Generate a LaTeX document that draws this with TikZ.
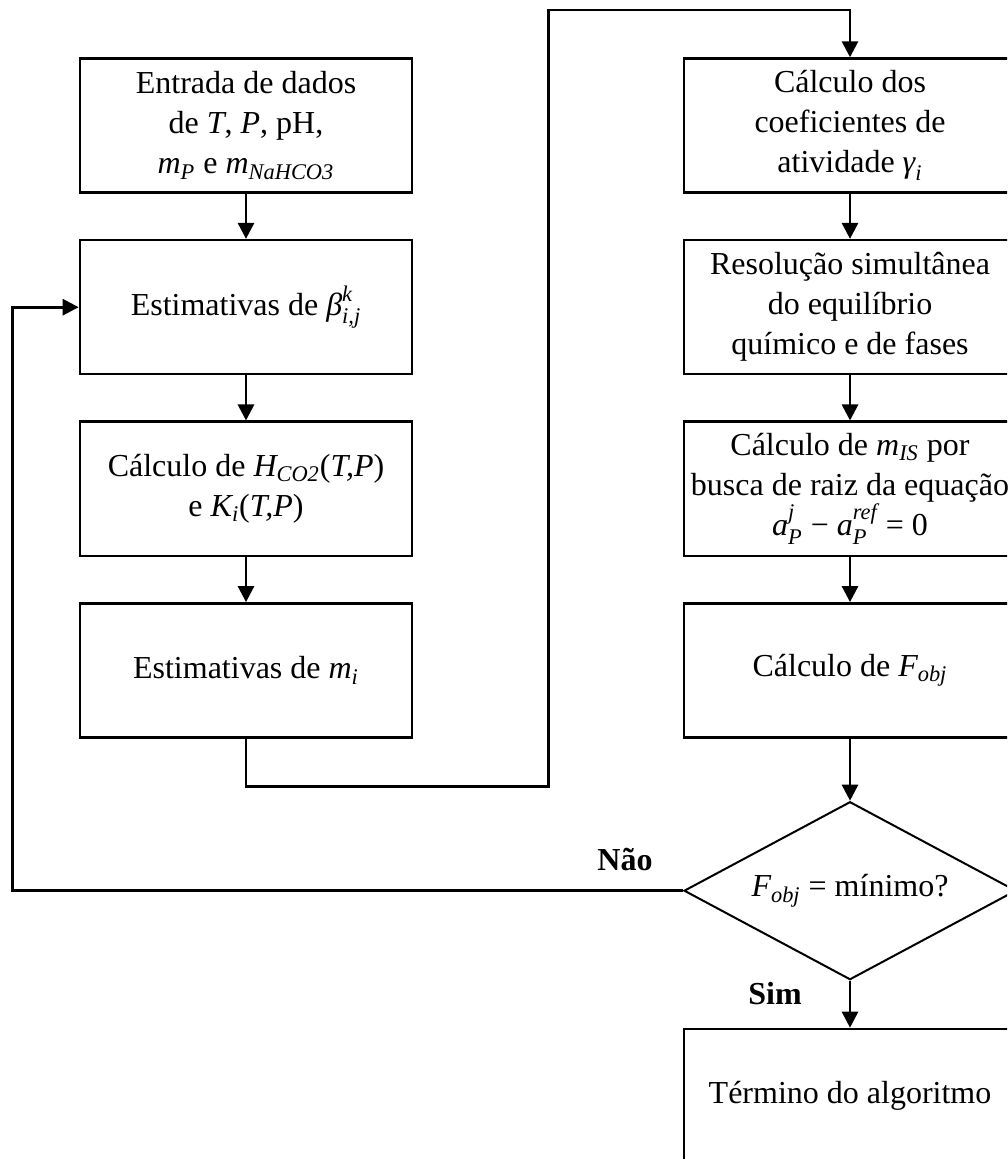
\documentclass[tikz,border=0pt]{standalone}
\usepackage{amsmath}
\usepackage{fontspec}
\setmainfont{Liberation Serif}
\usepackage{tikz}
\usetikzlibrary{
  arrows.meta,
  positioning,
  shapes.geometric,
}
\tikzstyle{box} = [
  draw,
  rectangle,
  line width=1.3pt,
  minimum width=166pt,
  minimum height=67pt,
  inner sep=0pt,
  align=center,
]
\tikzstyle{arrow} = [
  -{Triangle[width=8pt,length=8pt]},
  line width=1.4pt,
  black,
]
\tikzstyle{decision} = [
  draw,
  diamond,
  aspect=1.87,
  line width=1pt,
  minimum width=166pt,
  minimum height=89pt,
  inner sep=0pt,
]

\begin{document}
\begin{tikzpicture}[node distance=22.5pt and 0pt, font=\fontsize{16}{20}\selectfont]
    \useasboundingbox (0,0) rectangle (503.5pt,-579.5pt);
    \clip (0,0) rectangle (503.5pt,-579.5pt);

    % left column
    \node[box] (a0) at (123pt,-62.8pt) {Entrada de dados\\ de \textit{T}, \textit{P}, pH,\\ $\textit{m}_{\textit{P}}$ e $\textit{m}_{\textit{NaHCO3}}$};
    \node[box] (a1) [below=of a0] {Estimativas de $\textit{β}^{\textit{k}}_{\textit{i,j}}$};
    \node[box] (a2) [below=of a1] {Cálculo de $\textit{H}_{\textit{CO2}}$(\textit{T,P})\\ e $\textit{K}_{\textit{i}}$(\textit{T,P})};
    \node[box] (a3) [below=of a2] {Estimativas de $\textit{m}_{\textit{i}}$};

    % right column
    \node[box] (b0) at (425pt,-62.8pt) {Cálculo dos\\ coeficientes de\\ atividade $\textit{γ}_{\textit{i}}$};
    \node[box] (b1) [below=of b0] {Resolução simultânea\\ do equilíbrio\\ químico e de fases};
    \node[box] (b2) [below=of b1] {Cálculo de $\textit{m}_{\textit{IS}}$ por\\ busca de raiz da equação\\ $\textit{a}^{\textit{j}}_{\textit{P}}$ − $\textit{a}^{\textit{ref}}_{\textit{P}}$ = 0};
    \node[box] (b3) [below=of b2] {Cálculo de $\textit{F}_{\textit{obj}}$};
    \node[decision] (dec) [below=31pt of b3] {$\textit{F}_{\textit{obj}}$ = mínimo?};
    \node[box] (b4) [below=23.5pt of dec] {Término do algoritmo};

    \node (no) at (312.5pt,-429.5pt) {\textbf{Não}};
    \node (yes) at (387.5pt,-497pt) {\textbf{Sim}};

    \coordinate (up) at (274.25pt,-5pt);
    \coordinate (back) at (6.25pt,0pt);

    \draw[arrow] (a0) -- (a1);
    \draw[arrow] (a1) -- (a2);
    \draw[arrow] (a2) -- (a3);
    \draw[arrow] (a3.south) -- ++(0,-23.7pt) -| (up) -| (b0.north);
    \draw[arrow] (b0) -- (b1);
    \draw[arrow] (b1) -- (b2);
    \draw[arrow] (b2) -- (b3);
    \draw[arrow] (b3) -- (dec);
    \draw[arrow] (dec) -- (b4);
    \draw[arrow] (dec.west) -- (dec.west -| back) |- (a1.west);
\end{tikzpicture}
\end{document}
